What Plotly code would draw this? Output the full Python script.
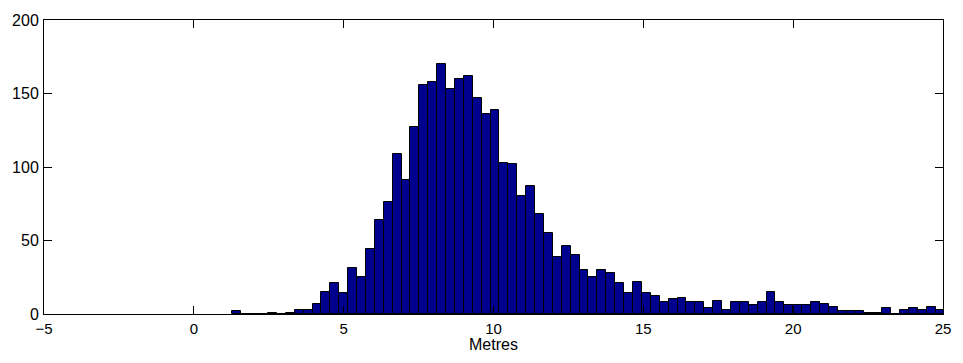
import numpy as np
import plotly.graph_objects as go

# Histogram of distances: 80 equal bins between the smallest and largest value
bin_min = 1.29
bin_max = 25.05
n_bins = 80
counts = [
    2, 0, 0, 0, 1, 0, 1, 3, 3, 7,
    15, 21, 14, 31, 25, 44, 64, 76, 109, 91,
    127, 156, 158, 170, 153, 160, 162, 147, 136, 139,
    103, 102, 80, 87, 68, 55, 39, 46, 40, 30,
    25, 30, 28, 21, 14, 22, 14, 12, 8, 10,
    11, 8, 8, 4, 9, 3, 8, 8, 6, 8,
    15, 8, 6, 6, 6, 8, 7, 5, 2, 2,
    2, 1, 1, 4, 0, 3, 4, 3, 5, 3,
]
x_ticks = [-5, 0, 5, 10, 15, 20, 25]
y_ticks = [0, 50, 100, 150, 200]
x_title = "Metres"

bin_width = (bin_max - bin_min) / n_bins
centers = bin_min + bin_width * (np.arange(n_bins) + 0.5)

fig = go.Figure(
    go.Bar(
        x=centers,
        y=counts,
        width=bin_width,
        marker=dict(color="#00008F", line=dict(color="black", width=1)),
        hoverinfo="x+y",
    )
)

font = "Liberation Sans, Arial, Helvetica, sans-serif"
axis_common = dict(
    showline=True,
    linecolor="black",
    linewidth=1,
    mirror="ticks",
    ticks="inside",
    ticklen=8,
    tickcolor="black",
    tickwidth=1,
    showgrid=False,
    zeroline=False,
)

fig.update_layout(
    width=963,
    height=363,
    margin=dict(l=43, r=18, t=13, b=49),
    paper_bgcolor="white",
    plot_bgcolor="white",
    bargap=0,
    showlegend=False,
    xaxis=dict(
        range=[-5, 25],
        tickvals=x_ticks,
        ticklabelstandoff=1,
        tickfont=dict(family=font, size=15, color="black"),
        **axis_common,
    ),
    yaxis=dict(
        range=[0, 200],
        tickvals=y_ticks,
        ticklabelstandoff=1,
        tickfont=dict(family=font, size=16, color="black"),
        **axis_common,
    ),
)

# x-axis label placed just under the tick labels, centred on the axis
fig.add_annotation(
    text=x_title,
    x=0.5,
    xref="paper",
    y=0,
    yref="paper",
    yanchor="top",
    yshift=-20,
    showarrow=False,
    font=dict(family=font, size=16, color="black"),
)

fig.write_html("out.html")
